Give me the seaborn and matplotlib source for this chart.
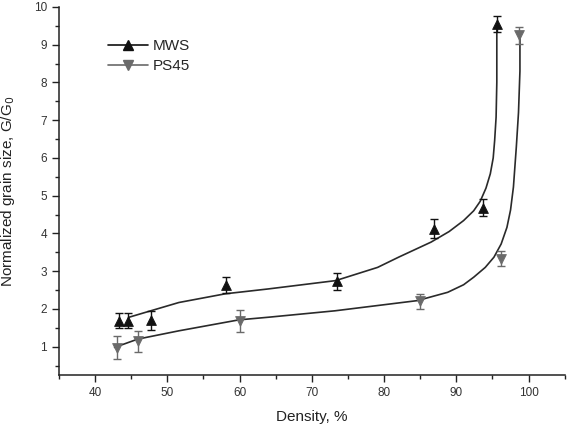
import numpy as np
import pandas as pd
import matplotlib
matplotlib.use("Agg")
import matplotlib.pyplot as plt
from matplotlib.lines import Line2D
from matplotlib.ticker import MultipleLocator
import seaborn as sns

mws_density = [43.3, 44.5, 47.7, 58.1, 73.5, 86.9, 93.7, 95.6]
mws_size = [1.69, 1.69, 1.70, 2.63, 2.73, 4.13, 4.68, 9.55]
mws_err = [0.2, 0.2, 0.25, 0.22, 0.22, 0.25, 0.22, 0.22]

ps_density = [43.0, 46.0, 60.0, 85.0, 96.2, 98.7]
ps_size = [0.97, 1.14, 1.68, 2.20, 3.33, 9.25]
ps_err = [0.3, 0.28, 0.28, 0.2, 0.2, 0.22]

# ---- curvas de ajuste ----
mws_fit_x = [44.7, 47.7, 51.6, 58.0, 64.0, 73.3, 79.1, 82.0, 86.5, 89.0, 91.0, 92.4, 93.3,
             94.1, 94.7, 95.1, 95.3, 95.5, 95.6, 95.6]
mws_fit_y = [1.78, 1.95, 2.17, 2.40, 2.53, 2.75, 3.10, 3.37, 3.77, 4.05, 4.34, 4.60, 4.85,
             5.2, 5.58, 6.0, 6.46, 7.08, 8.0, 9.55]

ps_fit_x = [42.7, 45.9, 51.6, 59.9, 64.0, 73.2, 84.6, 88.8, 91.0, 92.4, 94.0, 95.2, 96.2,
            97.0, 97.5, 97.9, 98.3, 98.6, 98.8, 98.8]
ps_fit_y = [0.98, 1.20, 1.42, 1.71, 1.78, 1.95, 2.22, 2.44, 2.64, 2.84, 3.10, 3.37, 3.72,
            4.16, 4.62, 5.23, 6.29, 7.2, 8.3, 9.25]

sns.set_style("ticks")
plt.rcParams['font.family'] = ['Liberation Sans', 'DejaVu Sans']

fig = plt.figure(figsize=(5.67, 4.33), dpi=100)
ax = fig.add_axes([0.104, 0.134, 0.892, 0.850])

mws_col = "#111111"
ps_col = "#6a6a6a"
fit_col = "#2a2a2a"

# curvas (sin agregacion, para conservar los tramos verticales)
sns.lineplot(x=mws_fit_x, y=mws_fit_y, sort=False, estimator=None, color=fit_col, lw=1.2, ax=ax)
sns.lineplot(x=ps_fit_x, y=ps_fit_y, sort=False, estimator=None, color=fit_col, lw=1.2, ax=ax)

# barras de error
ax.errorbar(mws_density, mws_size, yerr=mws_err, fmt="none", ecolor=mws_col,
            elinewidth=1, capsize=3, capthick=1)
ax.errorbar(ps_density, ps_size, yerr=ps_err, fmt="none", ecolor=ps_col,
            elinewidth=1, capsize=3, capthick=1)

# puntos
df_mws = pd.DataFrame({"x": mws_density, "y": mws_size})
df_ps = pd.DataFrame({"x": ps_density, "y": ps_size})
sns.scatterplot(data=df_mws, x="x", y="y", marker="^", s=50, color=mws_col,
                edgecolor=mws_col, ax=ax, zorder=5)
sns.scatterplot(data=df_ps, x="x", y="y", marker="v", s=50, color=ps_col,
                edgecolor=ps_col, ax=ax, zorder=5)

ax.set_xlim(35, 105)
ax.set_ylim(0.25, 10)
ax.xaxis.set_major_locator(MultipleLocator(10))
ax.xaxis.set_minor_locator(MultipleLocator(5))
ax.yaxis.set_major_locator(MultipleLocator(1))
ax.yaxis.set_minor_locator(MultipleLocator(0.5))
ax.set_yticks(range(1, 11))
ax.tick_params(which="both", direction="out", color="#222222", width=1)
ax.tick_params(which="major", length=5, labelsize=8.5, labelcolor="#333333")
ax.tick_params(which="minor", length=3)
sns.despine(ax=ax)
for s in ["left", "bottom"]:
    ax.spines[s].set_color("#222222")
    ax.spines[s].set_linewidth(1.1)

ax.set_xlabel("Density, %", fontsize=11, color="#222222", labelpad=8)
ax.set_ylabel("Normalized grain size, G/G$_0$", fontsize=11, color="#222222", labelpad=12)

handles = [
    Line2D([], [], color=mws_col, marker="^", markersize=7, lw=1.2),
    Line2D([], [], color=ps_col, marker="v", markersize=7, lw=1.2),
]
ax.legend(handles, ["MWS", "PS45"], loc="upper left", bbox_to_anchor=(0.07, 0.95),
          frameon=False, fontsize=11, handlelength=2.6, handletextpad=0.3,
          labelspacing=0.4)

fig.savefig("out.png", dpi=100)
